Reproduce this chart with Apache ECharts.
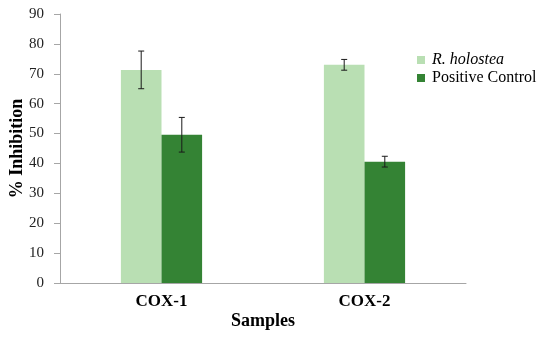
<!DOCTYPE html>
<html><head><meta charset="utf-8">
<script src="https://cdn.jsdelivr.net/npm/echarts@6/dist/echarts.min.js"></script>
<style>html,body{margin:0;padding:0;background:#fff}#c{width:550px;height:344px}</style>
</head><body><div id="c"></div>
<script>
var categories = ['COX-1', 'COX-2'];
var seriesNames = ['R. holostea', 'Positive Control'];
var holostea = [71.3, 73.0];
var holosteaErr = [6.3, 1.8];
var positive = [49.6, 40.6];
var positiveErr = [5.8, 1.8];
var yTicks = [0, 10, 20, 30, 40, 50, 60, 70, 80, 90];

var FONT = '"Liberation Serif", serif';
var chart = echarts.init(document.getElementById('c'), null, {renderer: 'canvas'});

function errSeries(vals, errs, side) {
  return {
    type: 'custom',
    z: 10,
    silent: true,
    data: vals.map(function (v, i) { return [i, v - errs[i], v + errs[i]]; }),
    renderItem: function (params, api) {
      var i = api.value(0);
      var lo = api.coord([i, api.value(1)]);
      var hi = api.coord([i, api.value(2)]);
      var bw = api.size([1, 0])[0] * 0.2;
      var x = lo[0] + side * bw / 2;
      var cap = 3;
      var st = {stroke: '#1a1a1a', lineWidth: 1};
      return {type: 'group', children: [
        {type: 'line', shape: {x1: x, y1: lo[1], x2: x, y2: hi[1]}, style: st},
        {type: 'line', shape: {x1: x - cap, y1: lo[1], x2: x + cap, y2: lo[1]}, style: st},
        {type: 'line', shape: {x1: x - cap, y1: hi[1], x2: x + cap, y2: hi[1]}, style: st}
      ]};
    }
  };
}

chart.setOption({
  animation: false,
  backgroundColor: '#fff',
  grid: {left: 60, width: 406, top: 14, bottom: 61, containLabel: false, outerBoundsMode: 'none'},
  legend: {
    orient: 'vertical', left: 412, top: 47, itemWidth: 8, itemHeight: 8, itemGap: 2,
    icon: 'rect',
    data: seriesNames,
    formatter: function (n) { return n === 'R. holostea' ? '{i|' + n + '}' : n; },
    textStyle: {fontFamily: FONT, fontSize: 16, color: '#000', padding: [0, 0, 0, 2],
      rich: {i: {fontFamily: FONT, fontSize: 16, fontStyle: 'italic', color: '#000'}}}
  },
  xAxis: {
    type: 'category', data: categories,
    name: 'Samples', nameLocation: 'middle', nameGap: 29, nameMoveOverlap: false,
    nameTextStyle: {fontFamily: FONT, fontSize: 18, fontWeight: 'bold', color: '#000'},
    axisLine: {lineStyle: {color: '#a6a6a6', width: 1}},
    axisTick: {show: false},
    axisLabel: {fontFamily: FONT, fontSize: 17, fontWeight: 'bold', color: '#000', margin: 10}
  },
  yAxis: {
    type: 'value', min: yTicks[0], max: yTicks[yTicks.length - 1], interval: 10,
    name: '% Inhibition', nameLocation: 'middle', nameGap: 34, nameMoveOverlap: false,
    nameTextStyle: {fontFamily: FONT, fontSize: 18, fontWeight: 'bold', color: '#000'},
    axisLine: {show: true, lineStyle: {color: '#a6a6a6', width: 1}},
    axisTick: {show: true, length: 6, lineStyle: {color: '#a6a6a6'}},
    splitLine: {show: false},
    axisLabel: {fontFamily: FONT, fontSize: 15, color: '#222', margin: 16}
  },
  series: [
    {name: seriesNames[0], type: 'bar', data: holostea, barWidth: '20%', barGap: '0%',
      itemStyle: {color: '#b9dfb3'}},
    {name: seriesNames[1], type: 'bar', data: positive, barWidth: '20%', barGap: '0%',
      itemStyle: {color: '#348334'}},
    errSeries(holostea, holosteaErr, -1),
    errSeries(positive, positiveErr, 1)
  ]
});
</script></body></html>
